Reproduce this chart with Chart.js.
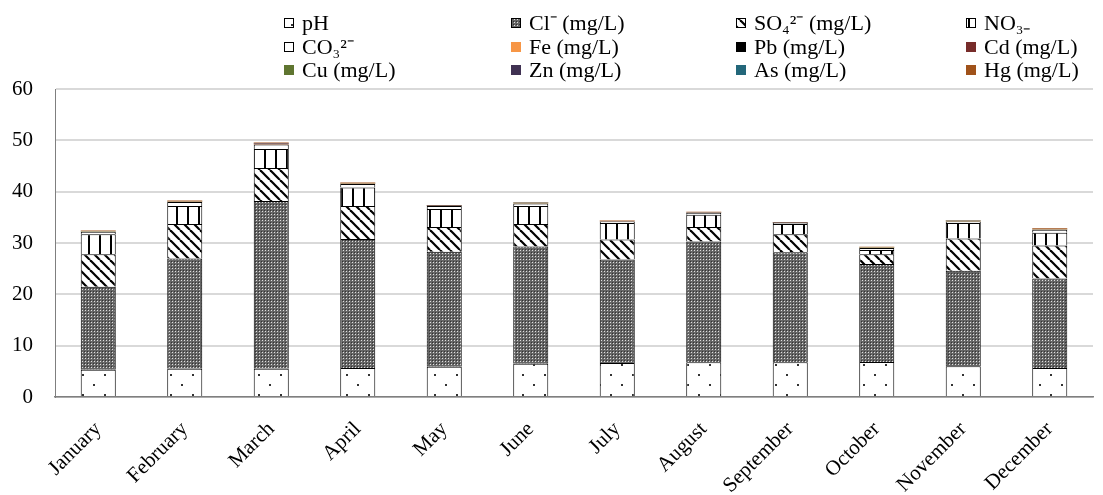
<!DOCTYPE html>
<html>
<head>
<meta charset="utf-8">
<script src="https://cdn.jsdelivr.net/npm/chart.js@4.4.1/dist/chart.umd.min.js"></script>
<style>
  body { margin: 0; background: #fff; }
  canvas { display: block; }
</style>
</head>
<body>
<canvas id="chart" width="1103" height="495"></canvas>
<script>
// Monthly water quality, stacked per month
const months = ['January', 'February', 'March', 'April', 'May', 'June', 'July', 'August', 'September', 'October', 'November', 'December'];

const ph  = [5.3, 5.5, 5.5, 5.65, 5.9, 6.5, 6.6, 6.75, 6.75, 6.8, 6.0, 5.65];
const cl  = [16.2, 21.5, 32.7, 25.15, 22.4, 22.8, 20.2, 23.55, 21.45, 19.1, 18.6, 17.45];
const so4 = [6.3, 6.7, 6.4, 6.4, 4.8, 4.4, 3.9, 2.8, 3.5, 1.9, 6.3, 6.4];
const no3 = [3.9, 3.5, 3.7, 3.6, 3.5, 3.5, 3.2, 2.4, 2.0, 0.85, 3.0, 2.5];
const co3 = [0.5, 0.8, 0.9, 0.7, 0.6, 0.5, 0.3, 0.4, 0.2, 0.4, 0.3, 0.6];
const fe  = [0.03, 0.03, 0.04, 0.03, 0.03, 0.03, 0.02, 0.02, 0.02, 0.02, 0.03, 0.03];
const pb  = [0.01, 0.01, 0.02, 0.01, 0.01, 0.01, 0.01, 0.05, 0.01, 0.01, 0.01, 0.01];
const cd  = [0.01, 0.01, 0.01, 0.01, 0.01, 0.01, 0.01, 0.01, 0.01, 0.01, 0.01, 0.01];
const cu  = [0.02, 0.02, 0.03, 0.02, 0.02, 0.02, 0.02, 0.02, 0.02, 0.02, 0.02, 0.02];
const zn  = [0.04, 0.05, 0.06, 0.05, 0.04, 0.04, 0.03, 0.03, 0.03, 0.03, 0.04, 0.05];
const as  = [0.01, 0.01, 0.01, 0.01, 0.01, 0.01, 0.01, 0.01, 0.01, 0.01, 0.01, 0.01];
const hg  = [0.12, 0.15, 0.2, 0.15, 0.1, 0.12, 0.08, 0.05, 0.1, 0.1, 0.12, 0.15];

const yTicks = [0, 10, 20, 30, 40, 50, 60];

const serif = '"Liberation Serif", "Times New Roman", serif';

// small helper to build a canvas pattern from a tile drawing function
function makePattern(w, h, draw) {
    const c = document.createElement('canvas');
    c.width = w; c.height = h;
    const g = c.getContext('2d');
    draw(g);
    return g.createPattern(c, 'repeat');
}

// pH: white with scattered dots
const dotPattern = makePattern(22, 20, g => {
    g.fillStyle = '#fff'; g.fillRect(0, 0, 22, 20);
    g.fillStyle = '#333';
    g.fillRect(5, 4, 2, 2);
    g.fillRect(16, 14, 2, 2);
});
// Cl: dense grey checker
const checkPattern = makePattern(3, 3, g => {
    g.fillStyle = '#666'; g.fillRect(0, 0, 3, 3);
    g.fillStyle = '#333'; g.fillRect(0, 0, 1, 1);
    g.fillStyle = '#e0e0e0'; g.fillRect(1, 1, 1, 1);
});
// SO4: diagonal stripes
const stripePattern = makePattern(10, 10, g => {
    g.fillStyle = '#fff'; g.fillRect(0, 0, 10, 10);
    g.strokeStyle = '#000'; g.lineWidth = 2.2;
    [-10, 0, 10].forEach(k => {
        g.beginPath(); g.moveTo(k, 0); g.lineTo(k + 10, 10); g.stroke();
    });
});
// NO3: vertical lines
const vlinePattern = makePattern(11, 4, g => {
    g.fillStyle = '#fff'; g.fillRect(0, 0, 11, 4);
    g.fillStyle = '#000'; g.fillRect(0, 0, 2, 4);
});

const labels = ['pH', 'Cl\u207B (mg/L)', 'SO\u2084\u00B2\u207B (mg/L)', 'NO\u2083\u208B', 'CO\u2083\u00B2\u207B',
    'Fe (mg/L)', 'Pb (mg/L)', 'Cd (mg/L)', 'Cu (mg/L)', 'Zn (mg/L)', 'As (mg/L)', 'Hg (mg/L)'];
const series = [ph, cl, so4, no3, co3, fe, pb, cd, cu, zn, as, hg];
const fills = [dotPattern, checkPattern, stripePattern, vlinePattern, '#ffffff',
    '#f79646', '#000000', '#772c2a', '#5f7530', '#403152', '#23677a', '#a0521a'];

const datasets = series.map((d, i) => ({
    label: labels[i],
    data: d,
    backgroundColor: fills[i],
    borderColor: '#000',
    borderWidth: i < 5 ? 1 : 0,
    barPercentage: 0.405,
    categoryPercentage: 1
}));

// legend drawn as a 4 x 3 grid like the original
const gridLegend = {
    id: 'gridLegend',
    afterDraw(chart) {
        const ctx = chart.ctx;
        const cols = [284, 511, 736, 966];
        const rows = [23, 47, 70];
        ctx.save();
        ctx.font = '22px ' + serif;
        ctx.textBaseline = 'middle';
        chart.data.datasets.forEach((ds, i) => {
            const x = cols[i % 4];
            const y = rows[Math.floor(i / 4)];
            ctx.fillStyle = ds.backgroundColor;
            ctx.fillRect(x, y - 5, 10, 10);
            if (ds.borderWidth) {
                ctx.strokeStyle = '#000';
                ctx.lineWidth = 1;
                ctx.strokeRect(x + 0.5, y - 4.5, 9, 9);
            }
            ctx.fillStyle = '#000';
            ctx.fillText(ds.label, x + 18, y + 1);
        });
        ctx.restore();
    }
};

new Chart(document.getElementById('chart'), {
    type: 'bar',
    data: { labels: months, datasets: datasets },
    options: {
        responsive: false,
        devicePixelRatio: 1,
        animation: false,
        layout: { padding: { top: 89, right: 10, left: 0, bottom: 0 } },
        plugins: {
            legend: { display: false },
            tooltip: { enabled: false }
        },
        scales: {
            x: {
                stacked: true,
                grid: { display: false, drawTicks: false },
                border: { display: true, color: '#7f7f7f', width: 1.5 },
                ticks: {
                    color: '#000',
                    font: { family: serif, size: 21 },
                    minRotation: 45,
                    maxRotation: 45,
                    padding: 20
                },
                afterFit: s => { s.height = 98; }
            },
            y: {
                stacked: true,
                min: 0,
                max: 60,
                afterBuildTicks: s => { s.ticks = yTicks.map(v => ({ value: v })); },
                grid: { color: '#d9d9d9', lineWidth: 2, drawTicks: false },
                border: { display: true, color: '#7f7f7f', width: 1 },
                ticks: {
                    color: '#000',
                    font: { family: serif, size: 21 },
                    padding: 22
                },
                afterFit: s => { s.width = 55; }
            }
        }
    },
    plugins: [gridLegend]
});
</script>
</body>
</html>
